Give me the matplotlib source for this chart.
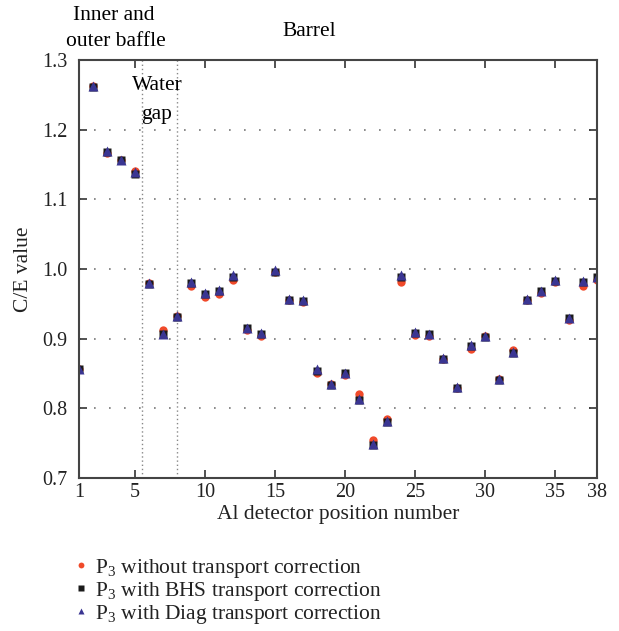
import matplotlib.pyplot as plt

plt.rcParams['font.family'] = ['Liberation Serif', 'DejaVu Serif']
plt.rcParams['mathtext.fontset'] = 'custom'
plt.rcParams['mathtext.rm'] = 'Liberation Serif'
plt.rcParams['mathtext.it'] = 'Liberation Serif:italic'

positions = list(range(1, 39))

no_correction = [0.857, 1.263, 1.167, 1.157, 1.140, 0.980, 0.912, 0.932, 0.975, 0.960,
                 0.964, 0.984, 0.912, 0.904, 0.995, 0.956, 0.952, 0.851, 0.835, 0.848,
                 0.820, 0.754, 0.784, 0.981, 0.905, 0.904, 0.871, 0.829, 0.885, 0.904,
                 0.842, 0.884, 0.955, 0.965, 0.981, 0.927, 0.976, 0.984]
bhs_correction = [0.856, 1.261, 1.168, 1.156, 1.137, 0.979, 0.906, 0.931, 0.980, 0.964,
                  0.968, 0.989, 0.915, 0.907, 0.996, 0.956, 0.954, 0.854, 0.834, 0.850,
                  0.812, 0.748, 0.781, 0.989, 0.908, 0.906, 0.871, 0.829, 0.889, 0.903,
                  0.841, 0.880, 0.956, 0.968, 0.983, 0.929, 0.981, 0.988]
diag_correction = [0.857, 1.263, 1.169, 1.157, 1.139, 0.980, 0.907, 0.932, 0.982, 0.966,
                   0.970, 0.991, 0.916, 0.908, 0.998, 0.957, 0.955, 0.856, 0.835, 0.851,
                   0.814, 0.749, 0.782, 0.991, 0.910, 0.907, 0.872, 0.830, 0.891, 0.904,
                   0.842, 0.881, 0.957, 0.969, 0.984, 0.930, 0.983, 0.989]

xticks = [1, 5, 10, 15, 20, 25, 30, 35, 38]
yticks = [0.7, 0.8, 0.9, 1.0, 1.1, 1.2, 1.3]

fig = plt.figure(figsize=(6.19, 6.31), dpi=100)
ax = fig.add_axes([0.1276, 0.2425, 0.8369, 0.6624])

ax.plot(positions, no_correction, 'o', color='#f04a2a', ms=6, mec='none',
        label=r'P$_{\mathrm{3}}$ without transport correction')
ax.plot(positions, bhs_correction, 's', color='#1a1a1a', ms=5.2, mec='none',
        label=r'P$_{\mathrm{3}}$ with BHS transport correction')
ax.plot(positions, diag_correction, '^', color='#3a3592', ms=7, mec='none',
        label=r'P$_{\mathrm{3}}$ with Diag transport correction')

ax.set_xlim(1, 38)
ax.set_ylim(0.7, 1.3)
ax.set_xticks(xticks)
ax.set_yticks(yticks)
ax.set_yticklabels(['%.1f' % v for v in yticks])
ax.tick_params(direction='in', top=True, right=True, length=6, width=1.2,
               colors='#333333', labelcolor='#222222', labelsize=14.5)
ax.tick_params(axis='y', pad=8)
for s in ax.spines.values():
    s.set_color('#444444')
    s.set_linewidth(1.5)

ax.yaxis.grid(True, color='#777777', linestyle=(0, (1, 8)), linewidth=1.2)
ax.set_axisbelow(True)
for xv in (5.5, 8):
    ax.axvline(xv, color='#888888', linestyle=(0, (1, 2)), linewidth=1.0, zorder=0)

ax.set_xlabel('Al detector position number', fontsize=15.5, color='#222222', labelpad=2)
ax.set_ylabel('C/E value', fontsize=15.5, color='#222222', labelpad=7)

fig.text(114 / 619, 1 - 15 / 631, 'Inner and', ha='center', va='center', fontsize=15.5)
fig.text(116 / 619, 1 - 42 / 631, 'outer baffle', ha='center', va='center', fontsize=15.5)
fig.text(309 / 619, 1 - 32 / 631, 'Barrel', ha='center', va='center', fontsize=15.5)
ax.text(157 / 619, 1 - 86 / 631, 'Water', transform=fig.transFigure,
        ha='center', va='center', fontsize=15.5)
ax.text(157 / 619, 1 - 114 / 631, 'gap', transform=fig.transFigure,
        ha='center', va='center', fontsize=15.5)

leg = fig.legend(loc='upper left', bbox_to_anchor=(61 / 619, 1 - 546 / 631),
                 frameon=False, fontsize=15.5, handletextpad=0.2, handlelength=0.9,
                 labelspacing=0.0, markerscale=0.7, borderpad=0)
for t in leg.get_texts():
    t.set_color('#222222')

fig.savefig('out.png', dpi=100)
